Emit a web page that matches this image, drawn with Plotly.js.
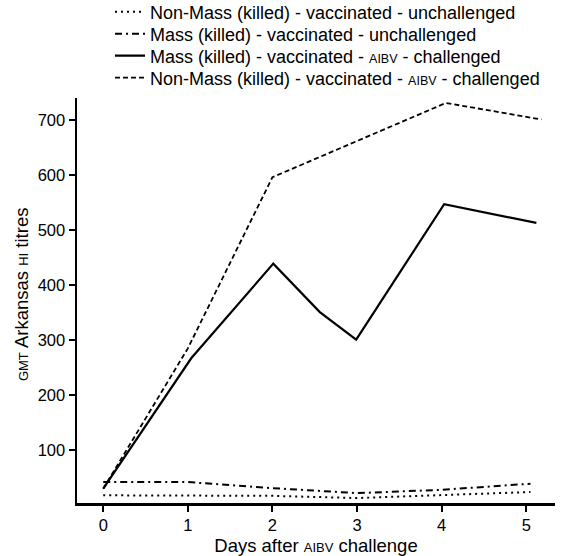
<!DOCTYPE html>
<html>
<head>
<meta charset="utf-8">
<script src="https://cdn.plot.ly/plotly-3.0.1.min.js"></script>
<style>html,body{margin:0;padding:0;background:#fff;}#chart{width:567px;height:556px;}</style>
</head>
<body>
<div id="chart"></div>
<script>
// Series names
var seriesNames = [
  'Non-Mass (killed) - vaccinated - unchallenged',
  'Mass (killed) - vaccinated - unchallenged',
  'Mass (killed) - vaccinated - <span style="font-size:12.5px">AIBV</span> - challenged',
  'Non-Mass (killed) - vaccinated - <span style="font-size:12.5px">AIBV</span> - challenged'
];
var yTitle = '<span style="font-size:13px">GMT</span> Arkansas <span style="font-size:13px">HI</span> titres';
var xTitle = 'Days after <span style="font-size:13px">AIBV</span> challenge';
// Non-Mass unchallenged (dotted)
var nonMassUnchX = [0, 1, 2, 3, 4, 5.05];
var nonMassUnchY = [18, 18, 17, 13, 19, 24];
// Mass unchallenged (dash-dot)
var massUnchX = [0, 1, 2, 3, 4, 5.05];
var massUnchY = [42, 42, 31, 22, 28, 39];
// Mass challenged (solid)
var massChX = [0, 1.04, 2.01, 2.56, 2.99, 4.03, 5.12];
var massChY = [30, 267, 439, 351, 301, 547, 513];
// Non-Mass challenged (dashed)
var nonMassChX = [0, 1, 2, 4.05, 5.18];
var nonMassChY = [30, 285, 596, 731, 701];

var xTicks = [0, 1, 2, 3, 4, 5];
var yTicks = [100, 200, 300, 400, 500, 600, 700];

var legendIds = ['legend', 'legend2', 'legend3', 'legend4'];

var traces = [
  {x: nonMassUnchX, y: nonMassUnchY, name: seriesNames[0], mode: 'lines', legend: legendIds[0],
   line: {color: '#000', width: 2, dash: '2px,4px'}},
  {x: massUnchX, y: massUnchY, name: seriesNames[1], mode: 'lines', legend: legendIds[1],
   line: {color: '#000', width: 2, dash: '7px,4px,2px,4px'}},
  {x: massChX, y: massChY, name: seriesNames[2], mode: 'lines', legend: legendIds[2],
   line: {color: '#000', width: 2.2}},
  {x: nonMassChX, y: nonMassChY, name: seriesNames[3], mode: 'lines', legend: legendIds[3],
   line: {color: '#000', width: 1.8, dash: '5px,3px'}}
];

function legendAt(rowPx) {
  return {xref: 'container', yref: 'container', x: 110 / 567, xanchor: 'left',
          y: 1 - rowPx / 556, yanchor: 'middle',
          font: {size: 18, color: '#000'}, bgcolor: 'rgba(0,0,0,0)', borderwidth: 0};
}

var layout = {
  width: 567, height: 556,
  margin: {l: 77, r: 12, t: 98, b: 53, autoexpand: false},
  paper_bgcolor: '#fff', plot_bgcolor: '#fff',
  font: {family: 'Liberation Sans, Arial, sans-serif', color: '#000', size: 16},
  showlegend: true,
  legend: legendAt(12),
  legend2: legendAt(34),
  legend3: legendAt(56),
  legend4: legendAt(78),
  xaxis: {
    range: [-0.31, 5.34], tickvals: xTicks, ticktext: xTicks.map(String),
    showgrid: false, zeroline: false, showline: true, linecolor: '#000', linewidth: 2.5,
    ticks: 'outside', ticklen: 6, tickwidth: 2, tickcolor: '#000',
    tickfont: {size: 16.5}, automargin: false,
    title: {text: xTitle, font: {size: 18.5}}
  },
  yaxis: {
    range: [4, 740], tickvals: yTicks, ticktext: yTicks.map(String),
    showgrid: false, zeroline: false, showline: true, linecolor: '#000', linewidth: 2.5,
    ticks: 'outside', ticklen: 6, tickwidth: 2, tickcolor: '#000',
    tickfont: {size: 16.5}, automargin: false
  },
  annotations: [{
    text: yTitle, xref: 'paper', yref: 'paper', x: -0.117, y: 0.516,
    xanchor: 'center', yanchor: 'middle', textangle: -90, showarrow: false,
    font: {size: 18.5, color: '#000'}
  }]
};

Plotly.newPlot('chart', traces, layout, {displayModeBar: false, staticPlot: true});
</script>
</body>
</html>
